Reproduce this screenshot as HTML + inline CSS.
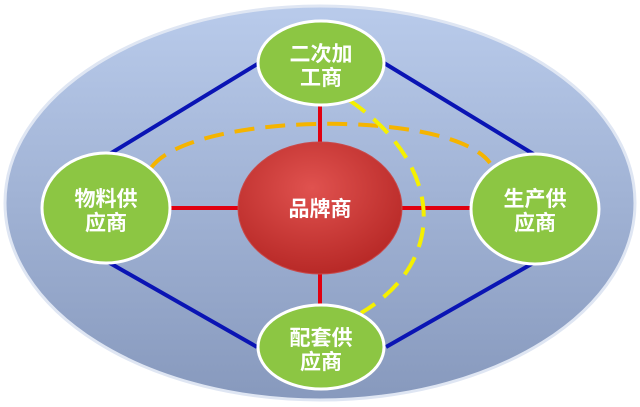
<!DOCTYPE html>
<html><head><meta charset="utf-8"><style>
html,body{margin:0;padding:0;background:#fff;width:640px;height:407px;overflow:hidden}
text{font-family:"Liberation Sans","Noto Sans CJK SC",sans-serif;font-weight:bold;fill:#fff;font-size:21px;text-anchor:middle}
</style></head><body>
<svg width="640" height="407" viewBox="0 0 640 407">
<defs>
<linearGradient id="bg" x1="0" y1="0" x2="0" y2="1">
<stop offset="0" stop-color="#b9cbeb"/><stop offset="1" stop-color="#8799bd"/></linearGradient>
<radialGradient id="rd" cx="0.45" cy="0.35" r="0.7">
<stop offset="0" stop-color="#e0524f"/><stop offset="1" stop-color="#b52624"/></radialGradient>
</defs>
<ellipse cx="320" cy="203" rx="315" ry="197" fill="url(#bg)" stroke="#dfe6f3" stroke-width="3"/>
<g stroke="#0a14b4" stroke-width="4">
<line x1="259" y1="63" x2="108" y2="155"/>
<line x1="384" y1="63" x2="535" y2="155"/>
<line x1="108" y1="262" x2="257" y2="347"/>
<line x1="535" y1="262" x2="386" y2="347"/>
</g>
<g stroke="#e00010" stroke-width="4">
<line x1="320" y1="100" x2="320" y2="142"/>
<line x1="320" y1="273" x2="320" y2="307"/>
<line x1="170" y1="208" x2="239" y2="208"/>
<line x1="402" y1="208" x2="471" y2="208"/>
</g>
<path d="M151,168 C190,112 450,108 490,163" fill="none" stroke="#f5b400" stroke-width="4" stroke-dasharray="20,11"/>
<ellipse cx="320" cy="208" rx="82" ry="66" fill="url(#rd)" stroke="#c8494a" stroke-width="1"/>
<path d="M349,100 C445,165 448,262 361,313" fill="none" stroke="#f5f000" stroke-width="4" stroke-dasharray="20,11"/>
<g fill="#8cc643" stroke="#fff" stroke-width="3">
<ellipse cx="321" cy="63" rx="63" ry="42"/>
<ellipse cx="106" cy="208" rx="64" ry="55"/>
<ellipse cx="535" cy="209" rx="64" ry="55"/>
<ellipse cx="321" cy="347" rx="63" ry="42"/>
</g>
<text x="321" y="61" >二次加</text><text x="321" y="85">工商</text>
<text x="106" y="206">物料供</text><text x="106" y="230">应商</text>
<text x="535" y="206">生产供</text><text x="535" y="230">应商</text>
<text x="321" y="345">配套供</text><text x="321" y="369">应商</text>
<text x="320" y="216">品牌商</text>
</svg>
</body></html>
